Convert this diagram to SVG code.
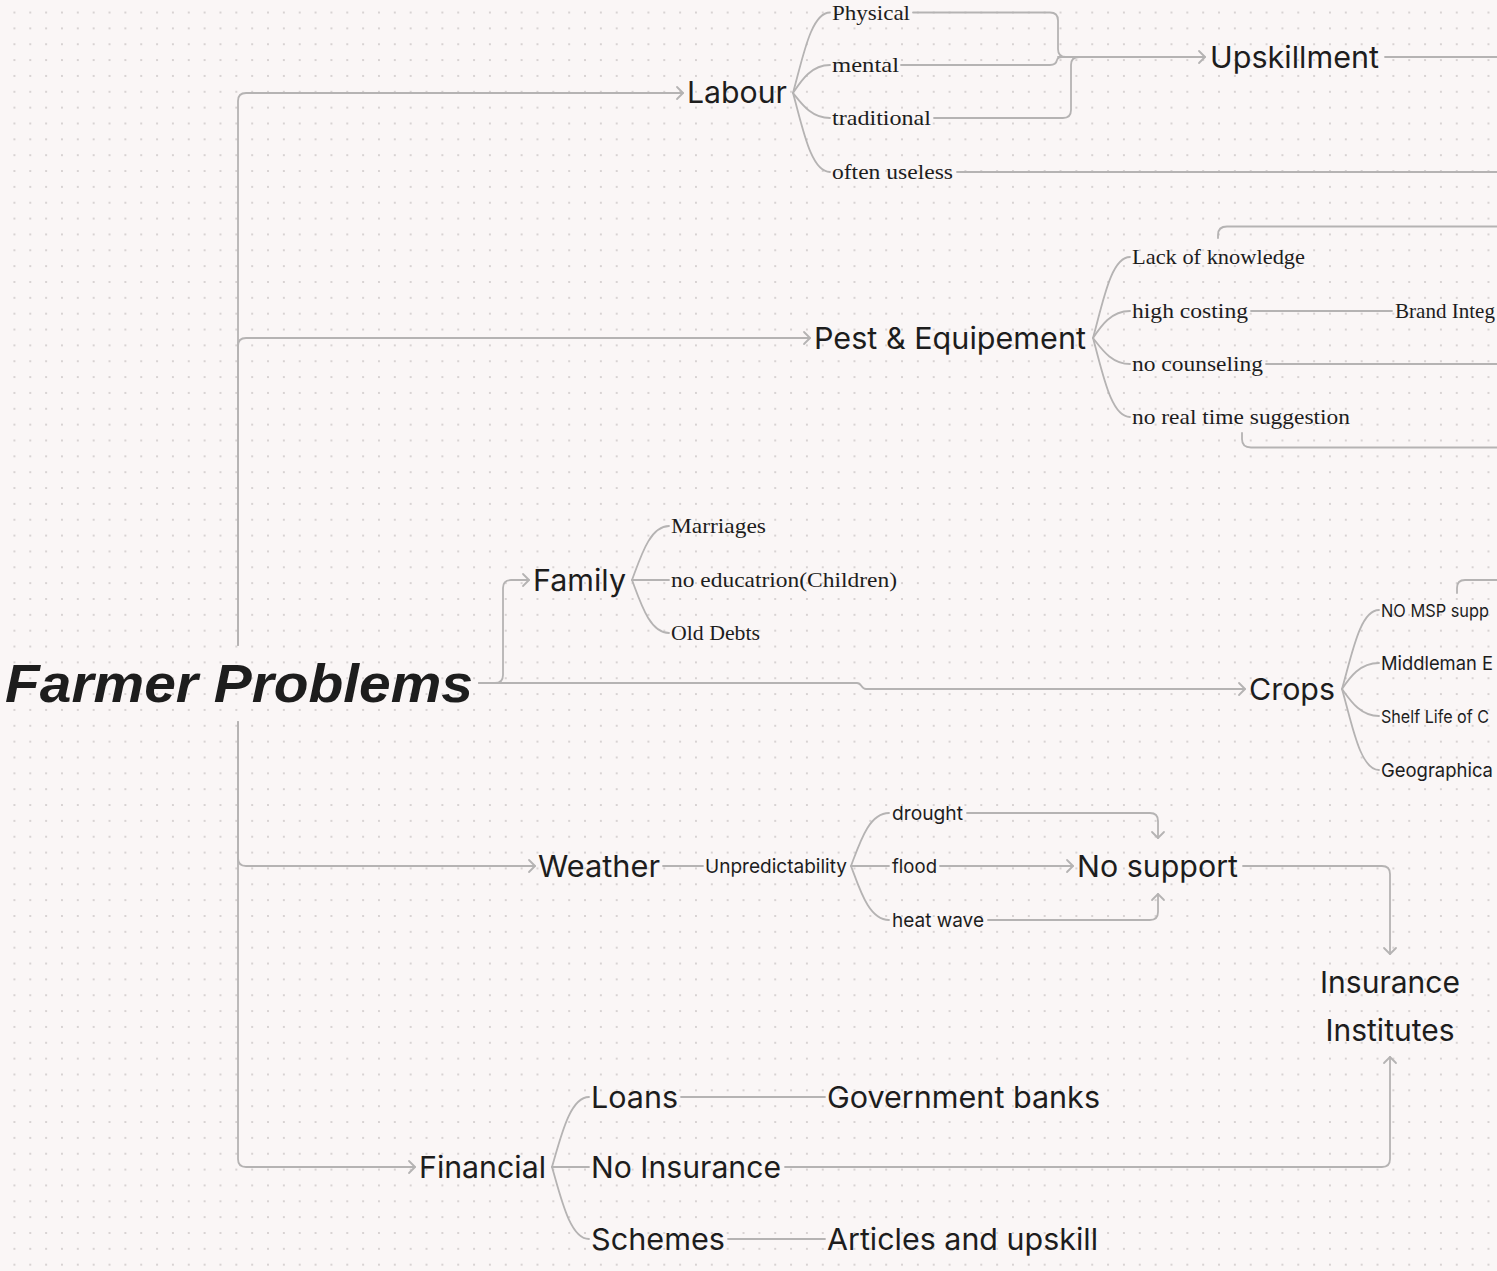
<svg xmlns="http://www.w3.org/2000/svg" width="1497" height="1271" viewBox="0 0 1497 1271">
<style>
.bg{fill:#faf6f6}
.c{fill:none;stroke:#b5b3b3;stroke-width:1.8;stroke-linecap:round;stroke-linejoin:round}
.a{marker-end:url(#arr)}
.s30{font-family:Inter,"Liberation Sans",sans-serif;font-size:30px;fill:#1d1d1d}
.s19{font-family:Inter,"Liberation Sans",sans-serif;font-size:19px;fill:#1d1d1d}
.s17{font-family:Inter,"Liberation Sans",sans-serif;font-size:17.5px;fill:#1d1d1d}
.sf{font-family:"Liberation Serif","DejaVu Serif",serif;font-size:22px;fill:#1d1d1d}
.title{font-family:"Liberation Sans","DejaVu Sans",sans-serif;font-size:54px;font-weight:bold;font-style:italic;fill:#1d1d1d}
</style>
<defs>
<pattern id="dots" patternUnits="userSpaceOnUse" x="6.5" y="4.6" width="15.85" height="15.85">
<circle cx="7.925" cy="7.925" r="0.9" fill="#c8c3c3"/>
</pattern>
<marker id="arr" markerUnits="userSpaceOnUse" viewBox="-8 -8 10 16" markerWidth="10" markerHeight="16" refX="0" refY="0" orient="auto">
<path d="M-6,-6 L0,0 L-6,6" fill="none" stroke="#b5b3b3" stroke-width="1.8" stroke-linecap="round" stroke-linejoin="round"/>
</marker>
</defs>
<rect class="bg" x="0" y="0" width="1497" height="1271"/>
<rect x="0" y="0" width="1497" height="1271" fill="url(#dots)"/>

<g id="connectors">
<path class="c a" d="M238,645 L238,101 Q238,93 246,93 L683,93"/>
<path class="c a" d="M238,645 L238,346 Q238,338 246,338 L810,338"/>
<path class="c a" d="M238,722 L238,858 Q238,866 246,866 L535,866"/>
<path class="c a" d="M238,722 L238,1159 Q238,1167 246,1167 L415,1167"/>
<path class="c a" d="M479,683 L495,683 Q503,683 503,675 L503,588 Q503,580 511,580 L529,580"/>
<path class="c a" d="M479,683 L857,683 C862,683 861,689 866,689 L1245,689"/>
<path class="c" d="M793,93 C803,57 811,12.5 830,12.5"/>
<path class="c" d="M793,93 C801,81 811,65 830,65"/>
<path class="c" d="M793,93 C801,103 811,118 830,118"/>
<path class="c" d="M793,93 C803,129 811,172 830,172"/>
<path class="c" d="M913,12.5 L1050,12.5 Q1058,12.5 1058,20.5 L1058,49 Q1058,57 1066,57"/>
<path class="c" d="M901,65 L1050,65 Q1056,65 1057,60 Q1058,57 1062,57"/>
<path class="c" d="M934,118 L1063,118 Q1071,118 1071,110 L1071,65 Q1071,57 1079,57"/>
<path class="c a" d="M1058,57 L1205,57"/>
<path class="c" d="M1385,57 L1497,57"/>
<path class="c" d="M957,172 L1497,172"/>
<path class="c" d="M1093,338 C1103,302 1111,257 1130,257"/>
<path class="c" d="M1093,338 C1101,326 1111,311 1130,311"/>
<path class="c" d="M1093,338 C1101,348 1111,364 1130,364"/>
<path class="c" d="M1093,338 C1103,374 1111,417 1130,417"/>
<path class="c" d="M1218,238 L1218,235 Q1218,226.5 1227,226.5 L1497,226.5"/>
<path class="c" d="M1251,311 L1392,311"/>
<path class="c" d="M1266,364 L1497,364"/>
<path class="c" d="M1242,433 L1242,439 Q1242,447.5 1251,447.5 L1497,447.5"/>
<path class="c" d="M632,580 C641,556 650,526 669,526"/>
<path class="c" d="M632,580 L669,580"/>
<path class="c" d="M632,580 C641,604 650,633 669,633"/>
<path class="c" d="M1342,689 C1352,654 1360,610 1379,610"/>
<path class="c" d="M1342,689 C1350,677 1360,663 1379,663"/>
<path class="c" d="M1342,689 C1350,700 1360,716 1379,716"/>
<path class="c" d="M1342,689 C1352,724 1360,770 1379,770"/>
<path class="c" d="M1457,593 L1457,588 Q1457,580 1465,580 L1497,580"/>
<path class="c" d="M663,866 L703,866"/>
<path class="c" d="M851,866 C860,842 869,813 889,813"/>
<path class="c" d="M851,866 L889,866"/>
<path class="c" d="M851,866 C860,890 869,920 889,920"/>
<path class="c a" d="M967,813 L1150,813 Q1158,813 1158,821 L1158,838"/>
<path class="c a" d="M940,866 L1073,866"/>
<path class="c a" d="M988,920 L1150,920 Q1158,920 1158,912 L1158,894"/>
<path class="c a" d="M1243,866 L1382,866 Q1390,866 1390,874 L1390,954"/>
<path class="c" d="M552,1167 C561,1136 570,1097 589,1097"/>
<path class="c" d="M552,1167 L589,1167"/>
<path class="c" d="M552,1167 C561,1198 570,1239 589,1239"/>
<path class="c" d="M681,1097 L825,1097"/>
<path class="c" d="M728,1239 L825,1239"/>
<path class="c a" d="M785,1167 L1382,1167 Q1390,1167 1390,1159 L1390,1057"/>
</g>

<g id="node-title"><text class="title" x="5" y="702" textLength="468" lengthAdjust="spacingAndGlyphs">Farmer Problems</text></g>

<g id="node-labour"><text class="s30" x="687" y="103" textLength="100" lengthAdjust="spacingAndGlyphs">Labour</text></g>
<g id="node-physical"><text class="sf" x="832" y="20" textLength="78" lengthAdjust="spacingAndGlyphs">Physical</text></g>
<g id="node-mental"><text class="sf" x="832" y="72" textLength="67" lengthAdjust="spacingAndGlyphs">mental</text></g>
<g id="node-traditional"><text class="sf" x="832" y="125" textLength="99" lengthAdjust="spacingAndGlyphs">traditional</text></g>
<g id="node-often-useless"><text class="sf" x="832" y="179" textLength="121" lengthAdjust="spacingAndGlyphs">often useless</text></g>
<g id="node-upskillment"><text class="s30" x="1210" y="68" textLength="169" lengthAdjust="spacingAndGlyphs">Upskillment</text></g>

<g id="node-pest"><text class="s30" x="814" y="349" textLength="272" lengthAdjust="spacingAndGlyphs">Pest &amp; Equipement</text></g>
<g id="node-lack"><text class="sf" x="1132" y="264" textLength="173" lengthAdjust="spacingAndGlyphs">Lack of knowledge</text></g>
<g id="node-high-costing"><text class="sf" x="1132" y="318" textLength="116" lengthAdjust="spacingAndGlyphs">high costing</text></g>
<g id="node-brand"><text class="sf" x="1395" y="318" textLength="100" lengthAdjust="spacingAndGlyphs">Brand Integ</text></g>
<g id="node-no-counseling"><text class="sf" x="1132" y="371" textLength="131" lengthAdjust="spacingAndGlyphs">no counseling</text></g>
<g id="node-no-real-time"><text class="sf" x="1132" y="424" textLength="218" lengthAdjust="spacingAndGlyphs">no real time suggestion</text></g>

<g id="node-family"><text class="s30" x="533" y="591" textLength="93" lengthAdjust="spacingAndGlyphs">Family</text></g>
<g id="node-marriages"><text class="sf" x="671" y="533" textLength="95" lengthAdjust="spacingAndGlyphs">Marriages</text></g>
<g id="node-no-education"><text class="sf" x="671" y="587" textLength="226" lengthAdjust="spacingAndGlyphs">no educatrion(Children)</text></g>
<g id="node-old-debts"><text class="sf" x="671" y="640" textLength="89" lengthAdjust="spacingAndGlyphs">Old Debts</text></g>

<g id="node-crops"><text class="s30" x="1249" y="700" textLength="86" lengthAdjust="spacingAndGlyphs">Crops</text></g>
<g id="node-msp"><text class="s17" x="1381" y="617" textLength="108" lengthAdjust="spacingAndGlyphs">NO MSP supp</text></g>
<g id="node-middleman"><text class="s19" x="1381" y="670" textLength="112" lengthAdjust="spacingAndGlyphs">Middleman E</text></g>
<g id="node-shelf"><text class="s17" x="1381" y="723" textLength="108" lengthAdjust="spacingAndGlyphs">Shelf Life of C</text></g>
<g id="node-geo"><text class="s19" x="1381" y="777" textLength="112" lengthAdjust="spacingAndGlyphs">Geographica</text></g>

<g id="node-weather"><text class="s30" x="538" y="877" textLength="122" lengthAdjust="spacingAndGlyphs">Weather</text></g>
<g id="node-unpredictability"><text class="s19" x="705" y="873" textLength="142" lengthAdjust="spacingAndGlyphs">Unpredictability</text></g>
<g id="node-drought"><text class="s19" x="892" y="820" textLength="71" lengthAdjust="spacingAndGlyphs">drought</text></g>
<g id="node-flood"><text class="s19" x="892" y="873" textLength="45" lengthAdjust="spacingAndGlyphs">flood</text></g>
<g id="node-heat-wave"><text class="s19" x="892" y="927" textLength="92" lengthAdjust="spacingAndGlyphs">heat wave</text></g>
<g id="node-no-support"><text class="s30" x="1077" y="877" textLength="161" lengthAdjust="spacingAndGlyphs">No support</text></g>
<g id="node-insurance-institutes"><text class="s30" x="1390" y="993" text-anchor="middle">Insurance</text><text class="s30" x="1390" y="1041" text-anchor="middle">Institutes</text></g>

<g id="node-financial"><text class="s30" x="419" y="1178" textLength="127" lengthAdjust="spacingAndGlyphs">Financial</text></g>
<g id="node-loans"><text class="s30" x="591" y="1108" textLength="87" lengthAdjust="spacingAndGlyphs">Loans</text></g>
<g id="node-no-insurance"><text class="s30" x="591" y="1178" textLength="190" lengthAdjust="spacingAndGlyphs">No Insurance</text></g>
<g id="node-schemes"><text class="s30" x="591" y="1250" textLength="134" lengthAdjust="spacingAndGlyphs">Schemes</text></g>
<g id="node-gov-banks"><text class="s30" x="827" y="1108" textLength="273" lengthAdjust="spacingAndGlyphs">Government banks</text></g>
<g id="node-articles"><text class="s30" x="827" y="1250" textLength="271" lengthAdjust="spacingAndGlyphs">Articles and upskill</text></g>
</svg>
